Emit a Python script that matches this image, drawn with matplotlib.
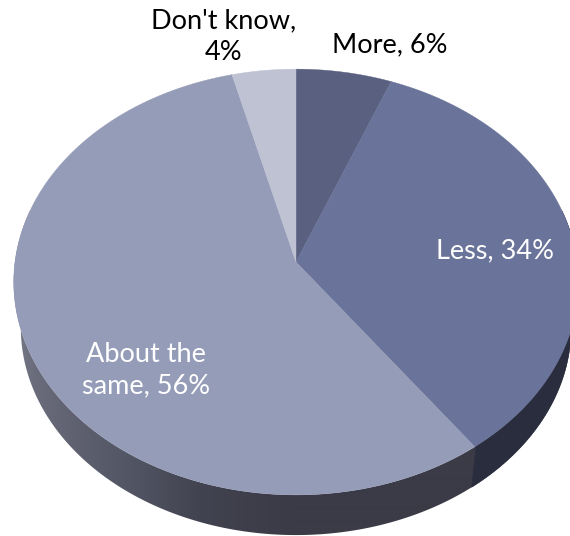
import numpy as np
import matplotlib
matplotlib.use("Agg")
import matplotlib.pyplot as plt
from matplotlib.patches import Polygon

categorias = ["More", "Less", "About the\nsame", "Don't know"]
valores = [6, 34, 56, 4]
colores = ["#596080", "#6a7399", "#959cb8", "#bec2d3"]
color_texto = ["#000000", "#ffffff", "#ffffff", "#000000"]
pos_texto = [(390, 45), (495, 251), (146, 370), (224, 37)]
saltos = ["{}, {}%", "{}, {}%", "{}, {}%", "{},\n{}%"]


def proyectar(theta, cx=296, cy=262, rx=281, ry=211, k=0.094, escala=1.0, dy=0):
    # disco visto en perspectiva: la parte de arriba queda mas lejos
    u = np.sin(theta)
    v = np.cos(theta)
    w = 1 + k * v
    return cx + escala * rx * u / w, cy + dy - escala * ry * v / w


fig = plt.figure(figsize=(5.7, 5.36), dpi=100)
ax = fig.add_axes([0, 0, 1, 1])
ax.set_xlim(0, 570)
ax.set_ylim(536, 0)
ax.axis("off")

plt.rcParams["font.family"] = ["Lato", "DejaVu Sans"]

# angulos de cada porcion a partir de los valores
fracciones = np.cumsum([0] + valores) / sum(valores) * 2 * np.pi

# cara lateral: degradado horizontal recortado con la silueta del borde
th_lado = np.linspace(np.pi / 2 - 0.25, 3 * np.pi / 2 + 0.25, 400)
xa, ya = proyectar(th_lado)
xb, yb = proyectar(th_lado[::-1], escala=0.975, dy=46)
silueta = Polygon(list(zip(xa, ya)) + list(zip(xb, yb)), closed=True,
                  facecolor="none", edgecolor="none", transform=ax.transData)
ax.add_patch(silueta)

xs_grad = np.arange(0, 570)
r = np.interp(xs_grad, [15, 35, 80, 130, 200, 290, 600], [118, 106, 94, 82, 66, 59, 59])
g = np.interp(xs_grad, [15, 35, 80, 130, 200, 290, 600], [121, 108, 96, 85, 67, 59, 59])
b = np.interp(xs_grad, [15, 35, 80, 130, 200, 290, 600], [136, 124, 112, 100, 80, 71, 71])
gradiente = np.dstack([r, g, b]) / 255
im = ax.imshow(gradiente, extent=[0, 570, 536, 0], aspect="auto", interpolation="bilinear", zorder=1)
im.set_clip_path(silueta)

# tramo oscuro bajo la porcion "Less"
th_osc = th_lado[th_lado < fracciones[2]]
xa, ya = proyectar(th_osc)
xb, yb = proyectar(th_osc[::-1], escala=0.975, dy=46)
ax.add_patch(Polygon(list(zip(xa, ya)) + list(zip(xb, yb)), closed=True,
                     facecolor="#2a2d3e", edgecolor="#2a2d3e", linewidth=0.3, zorder=2))

# cara superior
for i in range(len(valores)):
    th = np.linspace(fracciones[i], fracciones[i + 1], 200)
    xs, ys = proyectar(th)
    cx0, cy0 = proyectar(0.0, rx=0, ry=0)
    puntos = [(cx0, cy0)] + list(zip(xs, ys))
    ax.add_patch(Polygon(puntos, closed=True, facecolor=colores[i],
                         edgecolor=colores[i], linewidth=0.3, zorder=3))

for i in range(len(valores)):
    texto = saltos[i].format(categorias[i], valores[i])
    ax.text(pos_texto[i][0], pos_texto[i][1], texto, color=color_texto[i],
            ha="center", va="center", fontsize=19.5, linespacing=1.32, zorder=4)

fig.savefig("out.png", dpi=100)
